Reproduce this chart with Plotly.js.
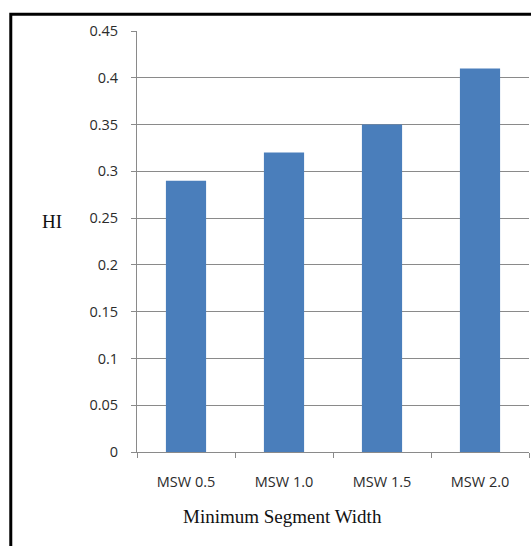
<!DOCTYPE html>
<html>
<head>
<meta charset="utf-8">
<script src="https://cdn.plot.ly/plotly-3.0.1.min.js"></script>
<style>
  html, body { margin: 0; padding: 0; background: #ffffff; }
  #chart { width: 531px; height: 546px; }
</style>
</head>
<body>
<div id="chart"></div>
<script>
// HI for each minimum segment width setting
const categories = ['MSW 0.5', 'MSW 1.0', 'MSW 1.5', 'MSW 2.0'];
const hiValues = [0.29, 0.32, 0.35, 0.41];
const yTickValues = [0, 0.05, 0.1, 0.15, 0.2, 0.25, 0.3, 0.35, 0.4, 0.45];
const yTickLabels = ['0', '0.05', '0.1', '0.15', '0.2', '0.25', '0.3', '0.35', '0.4', '0.45'];

const gridGrey = '#8a8a8a';
const tickFont = { family: 'Open Sans, sans-serif', size: 14.5, color: '#2b2b2b' };
const titleFont = { family: 'Liberation Serif, Times New Roman, serif', size: 19, color: '#111111' };

const trace = {
  type: 'bar',
  x: categories,
  y: hiValues,
  marker: { color: '#4a7ebb', line: { width: 0 } },
  hoverinfo: 'x+y'
};

const layout = {
  width: 531,
  height: 546,
  margin: { l: 137, r: 2, t: 31, b: 94 },
  paper_bgcolor: '#ffffff',
  plot_bgcolor: '#ffffff',
  showlegend: false,
  bargap: 0.59,
  xaxis: {
    type: 'category',
    showline: true,
    linecolor: gridGrey,
    linewidth: 1,
    ticks: 'outside',
    tickson: 'boundaries',
    ticklen: 5,
    tickcolor: gridGrey,
    tickfont: tickFont,
    ticklabelstandoff: 17,
    showgrid: false,
    zeroline: false,
    fixedrange: true
  },
  yaxis: {
    range: [0, 0.45],
    tickvals: yTickValues,
    ticktext: yTickLabels,
    showline: true,
    linecolor: gridGrey,
    linewidth: 1,
    ticks: 'outside',
    ticklen: 5,
    tickcolor: gridGrey,
    tickfont: tickFont,
    ticklabelstandoff: 10,
    showgrid: true,
    gridcolor: gridGrey,
    gridwidth: 1,
    zeroline: false,
    fixedrange: true
  },
  annotations: [
    {
      text: 'Minimum Segment Width',
      xref: 'paper', yref: 'paper',
      x: 0.37, y: -0.154,
      xanchor: 'center', yanchor: 'middle',
      showarrow: false,
      font: titleFont
    },
    {
      text: 'HI',
      xref: 'paper', yref: 'paper',
      x: -0.217, y: 0.548,
      xanchor: 'center', yanchor: 'middle',
      showarrow: false,
      font: titleFont
    }
  ],
  shapes: [
    {
      // outer frame around the chart
      type: 'rect',
      xref: 'paper', yref: 'paper',
      x0: -0.322, x1: 1.3,
      y0: -0.3, y1: 1.0395,
      line: { color: '#000000', width: 3 },
      fillcolor: 'rgba(0,0,0,0)',
      layer: 'above'
    }
  ]
};

Plotly.newPlot('chart', [trace], layout, { displayModeBar: false, staticPlot: true });
</script>
</body>
</html>
